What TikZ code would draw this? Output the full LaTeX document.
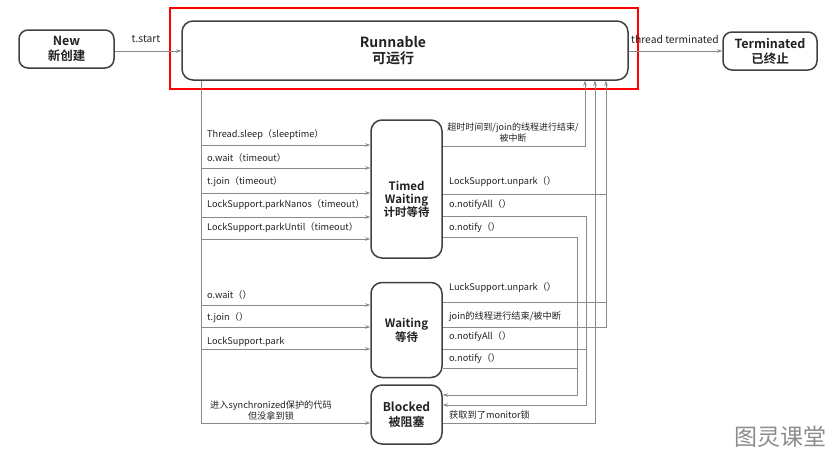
\documentclass[tikz,border=0pt]{standalone}
\usepackage{fontspec}
\setmainfont{Noto Sans CJK SC}[BoldFont={Noto Sans CJK SC Bold}]
\usetikzlibrary{arrows.meta}
\definecolor{boxline}{HTML}{404040}
\definecolor{conn}{HTML}{8A8A8A}
\definecolor{txt}{HTML}{222222}
\tikzset{
  state/.style={draw=boxline, line width=1.5pt, rounded corners=9pt, align=center, inner sep=0pt, text=txt, font=\bfseries},
  conline/.style={draw=conn, line width=0.9pt},
  arr/.style={conline, -{Stealth[length=5pt,width=3.5pt]}},
  lbl/.style={font=\fontsize{9.2}{11}\selectfont, text=txt, inner sep=0pt, align=center},
  elbl/.style={font=\fontsize{10.3}{12}\selectfont, text=txt, inner sep=0pt},
}
\begin{document}
\begin{tikzpicture}[x=1pt,y=-1pt]
\useasboundingbox (0,0) rectangle (836,458);
% red frame
\draw[red, line width=1.6pt] (170,8) rectangle (638,89);

% states
\node[state, minimum width=95pt, minimum height=38pt, font=\bfseries\fontsize{12.5}{15}\selectfont] (new) at (66.5,49) {New\\新创建};
\node[draw=boxline, line width=1.5pt, rounded corners=11pt, inner sep=0pt, text=txt, minimum width=446pt, minimum height=59pt, font=\bfseries\fontsize{14}{17}\selectfont] (run) at (405,50.5) {\raisebox{0pt}[\dimexpr\height+4pt\relax][\depth]{\begin{tabular}{@{}c@{}}Runnable\\[-1pt]可运行\end{tabular}}\rule{24pt}{0pt}};
\node[state, minimum width=94pt, minimum height=38pt, font=\bfseries\fontsize{12.5}{15}\selectfont] (term) at (770,51) {Terminated\\已终止};
\node[draw=boxline, line width=1.5pt, rounded corners=11pt, inner sep=0pt, text=txt, minimum width=71pt, minimum height=138pt, font=\bfseries\fontsize{11.5}{13.5}\selectfont] (tw) at (406.5,189) {\raisebox{0pt}[\dimexpr\height+24pt\relax][\depth]{\begin{tabular}{@{}c@{}}Timed\\[-1pt]Waiting\\[-1pt]计时等待\end{tabular}}};
\node[state, minimum width=71pt, minimum height=95pt, rounded corners=11pt, font=\bfseries\fontsize{11.5}{14}\selectfont] (wt) at (406.5,330) {Waiting\\等待};
\node[state, minimum width=71pt, minimum height=59pt, rounded corners=11pt, font=\bfseries\fontsize{12}{14.5}\selectfont] (bl) at (406.5,414.5) {Blocked\\被阻塞};

% top connectors
\draw[arr] (new.east |- 0,51) -- (run.west |- 0,51);
\node[elbl] (tstart) at (146,39) {t.start};
\draw[arr] (run.east |- 0,51) -- (term.west |- 0,51);
\node[elbl] (tterm) at (675,39) {thread terminated};

% left trunk
\coordinate (L) at (201,0);
\draw[conline] (L |- run.south) -- (L |- 0,423);
\foreach \yy in {145,168,193,217,239}{
  \draw[arr] (L |- 0,\yy) -- (tw.west |- 0,\yy);
}
\foreach \yy in {305,327,349}{
  \draw[arr] (L |- 0,\yy) -- (wt.west |- 0,\yy);
}
\draw[arr] (L |- 0,423) -- (bl.west |- 0,423);

% left labels
\node[lbl, anchor=west] (l1) at (207,135) {Thread.sleep（sleeptime）};
\node[lbl, anchor=west] (l2) at (207,158) {o.wait（timeout）};
\node[lbl, anchor=west] (l3) at (207,182) {t.join（timeout）};
\node[lbl, anchor=west] (l4) at (207,205) {LockSupport.parkNanos（timeout）};
\node[lbl, anchor=west] (l5) at (207,228) {LockSupport.parkUntil（timeout）};
\node[lbl, anchor=west] (l6) at (207,295) {o.wait（）};
\node[lbl, anchor=west] (l7) at (207,318) {t.join（）};
\node[lbl, anchor=west] (l8) at (207,342) {LockSupport.park};
\node[lbl] (l9) at (271,410) {进入synchronized保护的代码\\但没拿到锁};

% right side: to Runnable
\coordinate (A) at (585,0);
\coordinate (B) at (595,0);
\coordinate (C) at (606,0);
\draw[arr] (tw.east |- 0,146) -- (A |- 0,146) -- (A |- run.south);
\draw[arr] (bl.east |- 0,423) -- (B |- 0,423) -- (B |- run.south);
\draw[arr] (wt.east |- 0,327) -- (C |- 0,327) -- (C |- run.south);
\draw[conline] (tw.east |- 0,194) -- (C |- 0,194);
\draw[conline] (wt.east |- 0,302) -- (C |- 0,302);

% right side: to Blocked
\coordinate (D) at (586,0);
\coordinate (E) at (577,0);
\draw[arr] (tw.east |- 0,216) -- (D |- 0,216) -- (D |- 0,405) -- (bl.east |- 0,405);
\draw[conline] (wt.east |- 0,349) -- (D |- 0,349);
\draw[arr] (tw.east |- 0,237) -- (E |- 0,237) -- (E |- 0,395) -- (bl.east |- 0,395);
\draw[conline] (wt.east |- 0,368) -- (E |- 0,368);

% right labels
\node[lbl, font=\fontsize{9}{11}\selectfont] (r1) at (513,133) {超时时间到/join的线程进行结束/\\被中断};
\node[lbl, anchor=west] (r2) at (449,182) {LockSupport.unpark（）};
\node[lbl, anchor=west] (r3) at (449,205) {o.notifyAll（）};
\node[lbl, anchor=west] (r4) at (449,228) {o.notify（）};
\node[lbl, anchor=west] (r5) at (449,288) {LuckSupport.unpark（）};
\node[lbl, anchor=west] (r6) at (449,317) {join的线程进行结束/被中断};
\node[lbl, anchor=west] (r7) at (449,337) {o.notifyAll（）};
\node[lbl, anchor=west] (r8) at (449,359) {o.notify（）};
\node[lbl, anchor=west] (r9) at (449,415) {获取到了monitor锁};

% watermark
\node[inner sep=0pt, text=black!45, font=\fontsize{23}{26}\selectfont] (wm) at (780,437) {图灵课堂};
\end{tikzpicture}
\end{document}
